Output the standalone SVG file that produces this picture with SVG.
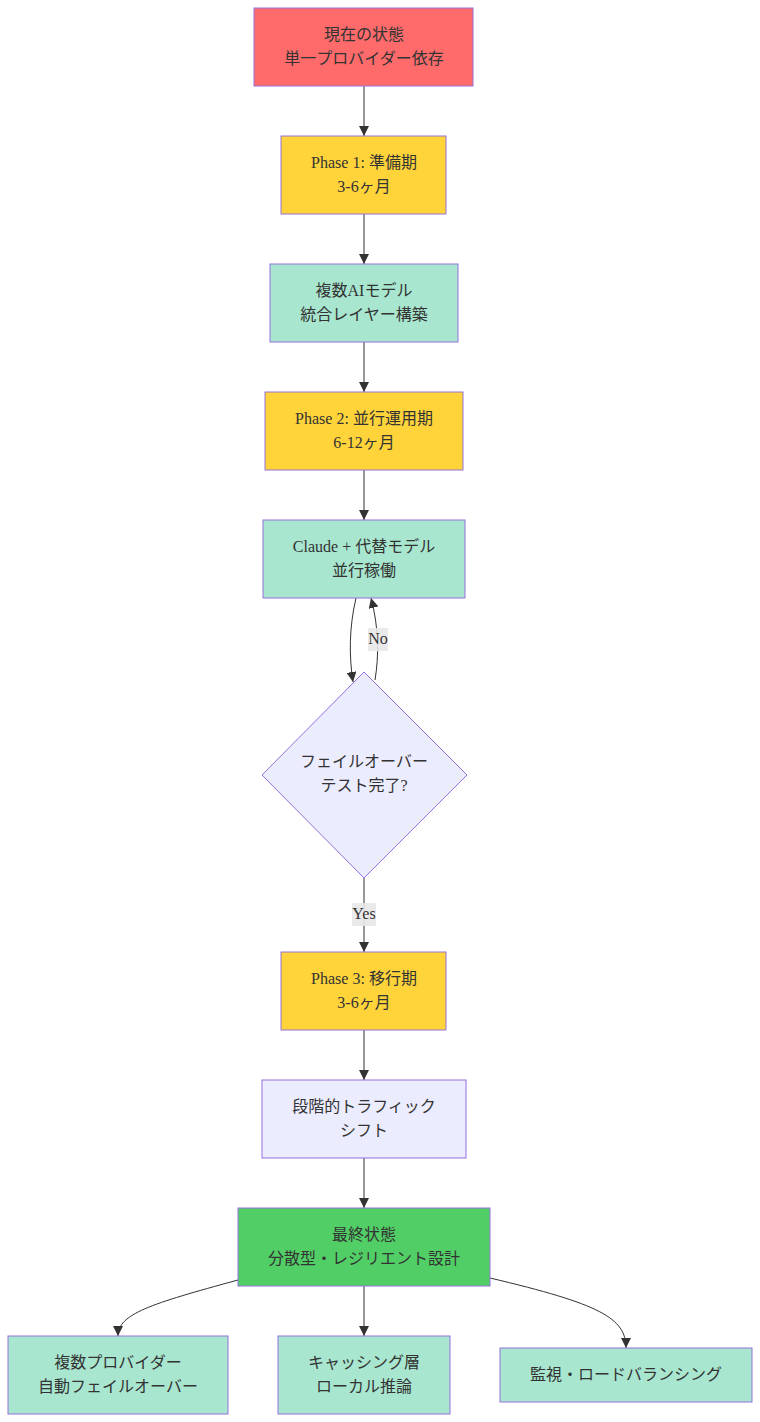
<svg xmlns="http://www.w3.org/2000/svg" width="760" height="1422" viewBox="0 0 760 1422">
<defs>
<marker id="arr" viewBox="0 0 10 10" refX="10" refY="5" markerWidth="10" markerHeight="10" markerUnits="userSpaceOnUse" orient="auto">
<path d="M0,0 L10,5 L0,10 z" fill="#333"/>
</marker>
<style>
.n{stroke:#9370DB;stroke-width:1}
.red{fill:#ff6b6b}
.yel{fill:#ffd43b}
.tea{fill:#a8e6cf}
.lav{fill:#ECECFF}
.grn{fill:#51cf66}
text{font-family:"Liberation Serif","Noto Sans CJK JP",serif;font-size:16px;fill:#333;text-anchor:middle}
.e{fill:none;stroke:#333;stroke-width:1}
.lb{fill:#e8e8e8;opacity:0.9}
</style>
</defs>
<g id="connectors">
<path class="e" d="M364,86 L364,136" marker-end="url(#arr)"/>
<path class="e" d="M364,214 L364,264" marker-end="url(#arr)"/>
<path class="e" d="M364,342 L364,392" marker-end="url(#arr)"/>
<path class="e" d="M364,470 L364,520" marker-end="url(#arr)"/>
<path class="e" d="M356,598 C349,628 349,656 353,682" marker-end="url(#arr)"/>
<path class="e" d="M375,680 C379,656 379,628 371,598" marker-end="url(#arr)"/>
<path class="e" d="M364,878 L364,952" marker-end="url(#arr)"/>
<path class="e" d="M364,1030 L364,1080" marker-end="url(#arr)"/>
<path class="e" d="M364,1158 L364,1208" marker-end="url(#arr)"/>
<path class="e" d="M364,1286 L364,1336" marker-end="url(#arr)"/>
<path class="e" d="M238,1280 C150,1304 118,1314 118,1336" marker-end="url(#arr)"/>
<path class="e" d="M490,1278 C600,1304 626,1318 626,1348" marker-end="url(#arr)"/>
<rect class="lb" x="368" y="628" width="20" height="23"/>
<text x="378" y="644">No</text>
<rect class="lb" x="352" y="903" width="24" height="23"/>
<text x="364" y="919">Yes</text>
</g>
<g id="A"><rect class="n red" x="254" y="8" width="219" height="78"/><text x="364" y="40">現在の状態</text><text x="364" y="64">単一プロバイダー依存</text></g>
<g id="B"><rect class="n yel" x="281" y="136" width="165" height="78"/><text x="364" y="168">Phase 1: 準備期</text><text x="364" y="192">3-6ヶ月</text></g>
<g id="C"><rect class="n tea" x="270" y="264" width="188" height="78"/><text x="364" y="296">複数AIモデル</text><text x="364" y="320">統合レイヤー構築</text></g>
<g id="D"><rect class="n yel" x="265" y="392" width="198" height="78"/><text x="364" y="424">Phase 2: 並行運用期</text><text x="364" y="448">6-12ヶ月</text></g>
<g id="E"><rect class="n tea" x="263" y="520" width="202" height="78"/><text x="364" y="552">Claude + 代替モデル</text><text x="364" y="576">並行稼働</text></g>
<g id="F"><polygon class="n lav" points="364,672 467,775 364,878 262,775"/><text x="364" y="767">フェイルオーバー</text><text x="364" y="791">テスト完了?</text></g>
<g id="G"><rect class="n yel" x="281" y="952" width="165" height="78"/><text x="364" y="984">Phase 3: 移行期</text><text x="364" y="1008">3-6ヶ月</text></g>
<g id="H"><rect class="n lav" x="262" y="1080" width="204" height="78"/><text x="364" y="1112">段階的トラフィック</text><text x="364" y="1136">シフト</text></g>
<g id="I"><rect class="n grn" x="238" y="1208" width="252" height="78"/><text x="364" y="1240">最終状態</text><text x="364" y="1264">分散型・レジリエント設計</text></g>
<g id="J"><rect class="n tea" x="8" y="1336" width="220" height="78"/><text x="118" y="1368">複数プロバイダー</text><text x="118" y="1392">自動フェイルオーバー</text></g>
<g id="K"><rect class="n tea" x="278" y="1336" width="172" height="78"/><text x="364" y="1368">キャッシング層</text><text x="364" y="1392">ローカル推論</text></g>
<g id="L"><rect class="n tea" x="500" y="1348" width="252" height="54"/><text x="626" y="1380">監視・ロードバランシング</text></g>
</svg>
